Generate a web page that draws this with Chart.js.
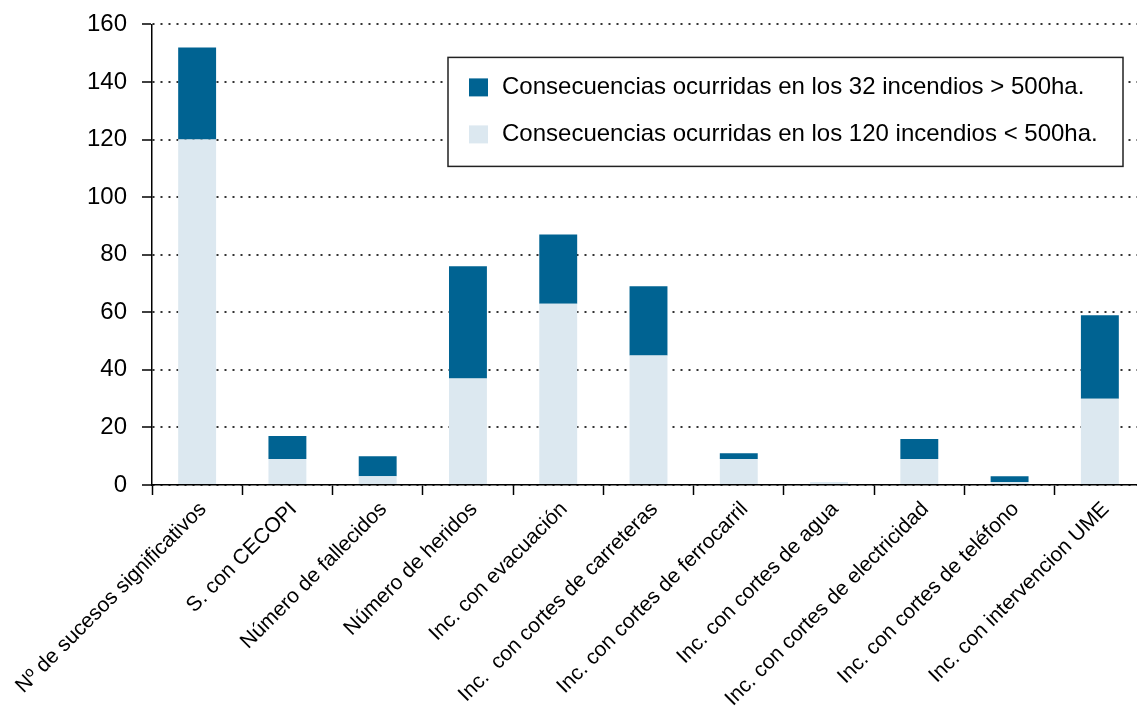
<!DOCTYPE html>
<html lang="es">
<head>
  <meta charset="UTF-8">
  <title>Consecuencias de los incendios</title>
  <script src="https://cdn.jsdelivr.net/npm/chart.js"></script>
  <style>
    html, body { margin: 0; padding: 0; background: #fff; overflow: hidden; }
    #wrap { width: 1137px; height: 711px; position: relative; overflow: hidden; }
    /* slightly larger drawing surface: the last category runs past the right edge, as in the original */
    #inner { position: absolute; left: 0; top: -5px; width: 1145px; height: 716px; }
  </style>
</head>
<body>
  <div id="wrap">
    <div id="inner">
      <canvas id="chart"></canvas>
    </div>
  </div>
  <script>
    // categories (x axis)
    const categories = [
      'Nº de sucesos significativos',
      'S. con CECOPI',
      'Número de fallecidos',
      'Número de heridos',
      'Inc. con evacuación',
      'Inc.  con cortes de carreteras',
      'Inc. con cortes de ferrocarril',
      'Inc. con cortes de agua',
      'Inc. con cortes de electricidad',
      'Inc. con cortes de teléfono',
      'Inc. con intervencion UME'
    ];

    // values
    const smallFires = [120, 9, 3, 37, 63, 45, 9, 1, 9, 1, 30];   // 120 incendios < 500ha
    const bigFires   = [32, 8, 7, 39, 24, 24, 2, 0, 7, 2, 29];    // 32 incendios > 500ha

    const seriesLabels = [
      'Consecuencias ocurridas en los 120 incendios < 500ha.',
      'Consecuencias ocurridas en los 32 incendios > 500ha.'
    ];

    const yTicks = { min: 0, max: 160, step: 20 };

    const FONT = '"Liberation Sans", Arial, Helvetica, sans-serif';

    // legend drawn as a framed box inside the plot
    const legendBox = {
      id: 'legendBox',
      afterDatasetsDraw(chart) {
        const ctx = chart.ctx;
        const a = chart.chartArea;
        const x = a.left + 296, y = a.top + 33, w = 675, h = 109;
        ctx.save();
        ctx.fillStyle = '#fff';
        ctx.fillRect(x, y, w, h);
        ctx.strokeStyle = '#222';
        ctx.lineWidth = 1.5;
        ctx.strokeRect(x, y, w, h);
        ctx.font = '24px ' + FONT;
        ctx.textBaseline = 'middle';
        [1, 0].forEach((di, i) => {
          const ds = chart.data.datasets[di];
          const cy = y + 30 + i * 47;
          ctx.fillStyle = ds.backgroundColor;
          ctx.fillRect(x + 21, cy - 9, 19, 18);
          ctx.fillStyle = '#000';
          ctx.fillText(ds.label, x + 54, cy);
        });
        ctx.restore();
      }
    };

    new Chart(document.getElementById('chart').getContext('2d'), {
      type: 'bar',
      data: {
        labels: categories,
        datasets: [
          {
            label: seriesLabels[0],
            data: smallFires,
            backgroundColor: '#dce8f0',
            barPercentage: 0.42,
            categoryPercentage: 1
          },
          {
            label: seriesLabels[1],
            data: bigFires,
            backgroundColor: '#006392',
            barPercentage: 0.42,
            categoryPercentage: 1
          }
        ]
      },
      options: {
        responsive: true,
        maintainAspectRatio: false,
        animation: false,
        plugins: {
          legend: { display: false },
          tooltip: { enabled: false }
        },
        scales: {
          x: {
            stacked: true,
            afterFit: s => { s.height = 226; },
            grid: {
              offset: true,
              drawOnChartArea: false,
              color: '#000',
              tickLength: 10,
              tickWidth: 1.5
            },
            border: { color: '#000', width: 1.5 },
            ticks: {
              color: '#000',
              font: { family: FONT, size: 21 },
              minRotation: 45,
              maxRotation: 45,
              autoSkip: false,
              padding: 2,
              labelOffset: 6
            }
          },
          y: {
            stacked: true,
            min: yTicks.min,
            max: yTicks.max,
            afterFit: s => { s.width = 152; },
            grid: {
              color: '#333',
              lineWidth: 2,
              tickColor: '#000',
              tickLength: 10,
              tickWidth: 1.5,
              tickBorderDash: []
            },
            border: { color: '#000', width: 1.5, dash: [2, 6] },
            ticks: {
              stepSize: yTicks.step,
              color: '#000',
              font: { family: FONT, size: 24 },
              padding: 15
            }
          }
        }
      },
      plugins: [legendBox]
    });
  </script>
</body>
</html>
